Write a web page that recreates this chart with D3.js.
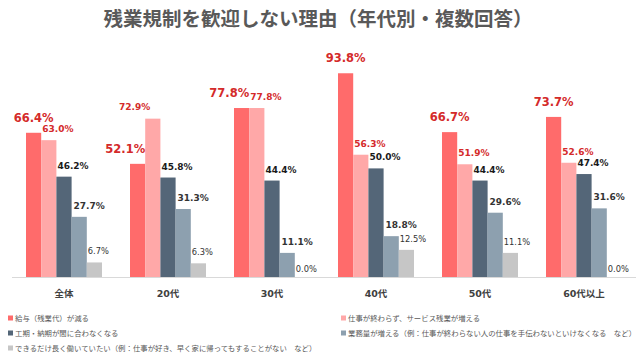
<!DOCTYPE html>
<html><head><meta charset="utf-8">
<script src="https://cdn.jsdelivr.net/npm/d3@7"></script>
<style>
html,body{margin:0;padding:0;background:#fff;}
svg{display:block;}
</style></head>
<body>
<svg id="chart" width="640" height="359"></svg>
<script>
const title = "残業規制を歓迎しない理由（年代別・複数回答）";
const categories = ["全体", "20代", "30代", "40代", "50代", "60代以上"];
const seriesNames = [
  "給与（残業代）が減る",
  "仕事が終わらず、サービス残業が増える",
  "工期・納期が間に合わなくなる",
  "業務量が増える（例：仕事が終わらない人の仕事を手伝わないといけなくなる　など）",
  "できるだけ長く働いていたい（例：仕事が好き、早く家に帰ってもすることがない　など）"
];
const s1 = [66.4, 52.1, 77.8, 93.8, 66.7, 73.7];
const s2 = [63.0, 72.9, 77.8, 56.3, 51.9, 52.6];
const s3 = [46.2, 45.8, 44.4, 50.0, 44.4, 47.4];
const s4 = [27.7, 31.3, 11.1, 18.8, 29.6, 31.6];
const s5 = [6.7, 6.3, 0.0, 12.5, 11.1, 0.0];
const seriesValues = [s1, s2, s3, s4, s5];
const colors = ["#ff6b6b", "#ffa8a8", "#546678", "#8da0af", "#c6c6c6"];

const svg = d3.select("#chart");
const base = 277;
const y = d3.scaleLinear().domain([0, 100]).range([base, base - 217.2]);
const x0 = d3.scaleBand().domain(categories).range([12, 636]).paddingInner(28/104).paddingOuter(14/104);
const x1 = d3.scaleBand().domain(d3.range(5)).range([0, x0.bandwidth()]).padding(0);

svg.append("text").attr("x", 318).attr("y", 26).attr("text-anchor", "middle")
  .attr("font-family", "'Noto Sans CJK JP', sans-serif").attr("font-weight", "bold")
  .attr("font-size", 19.5).attr("fill", "#595959").text(title);

svg.append("line").attr("x1", 12).attr("x2", 636).attr("y1", base + 0.5).attr("y2", base + 0.5)
  .attr("stroke", "#d9d9d9").attr("stroke-width", 1);

const groups = svg.selectAll("g.grp").data(categories).join("g")
  .attr("class", "grp").attr("transform", d => `translate(${x0(d)},0)`);

const numFont = "'DejaVu Sans', Verdana, sans-serif";
groups.each(function(cat, ci) {
  const g = d3.select(this);
  seriesValues.forEach((vals, si) => {
    const v = vals[ci];
    g.append("rect").attr("x", x1(si)).attr("width", x1.bandwidth())
      .attr("y", y(v)).attr("height", base - y(v)).attr("fill", colors[si]);
  });
  const lab = (txt, xx, yy, anchor, size, weight, fill) =>
    g.append("text").attr("x", xx).attr("y", yy).attr("text-anchor", anchor)
      .attr("font-family", numFont)
      .attr("font-size", size).attr("font-weight", weight).attr("fill", fill).text(txt);
  const fmt = v => v.toFixed(1) + "%";
  const a = s1[ci], b = s2[ci];
  const bw = x1.bandwidth();
  // series 1
  if (b >= a) lab(fmt(a), x1(0) + bw, y(a) - 11, "end", 11.5, "bold", "#d42a2a");
  else lab(fmt(a), x1(0) + bw / 2, y(a) - 11, "middle", 11.5, "bold", "#d42a2a");
  // series 2
  if (b > a) lab(fmt(b), x1(1) + 5, y(b) - 9, "end", 9, "bold", "#d42a2a");
  else lab(fmt(b), x1(1) + 1, y(b) - 8, "start", 9, "bold", "#d42a2a");
  // series 3
  lab(fmt(s3[ci]), x1(2) + 1, y(s3[ci]) - 8, "start", 9, "bold", "#1a1a1a");
  // series 4
  lab(fmt(s4[ci]), x1(3) + 2, y(s4[ci]) - 8, "start", 9, "bold", "#333");
  // series 5
  const v5 = s5[ci];
  lab(fmt(v5), x1(4) + 1, y(v5) - (v5 === 0 ? 5 : 8), "start", 8.3, "normal", "#333");
});

svg.selectAll("text.cat").data(categories).join("text").attr("class", "cat")
  .attr("x", d => x0(d) + x0.bandwidth() / 2).attr("y", 296.5).attr("text-anchor", "middle")
  .attr("font-family", "'DejaVu Sans', 'Noto Sans CJK JP', sans-serif").attr("font-weight", "bold")
  .attr("font-size", 9.5).attr("fill", "#404040").text(d => d);

const legendPos = [[8, 318], [341, 318], [8, 333], [341, 333], [8, 348]];
seriesNames.forEach((name, i) => {
  const [lx, ly] = legendPos[i];
  svg.append("rect").attr("x", lx).attr("y", ly - 2.5).attr("width", 5).attr("height", 5).attr("fill", colors[i]);
  svg.append("text").attr("x", lx + 7).attr("y", ly + 2.6)
    .attr("font-family", "'Noto Sans CJK JP', sans-serif").attr("font-size", 7.4)
    .attr("fill", "#595959").text(name);
});
</script>
</body></html>
